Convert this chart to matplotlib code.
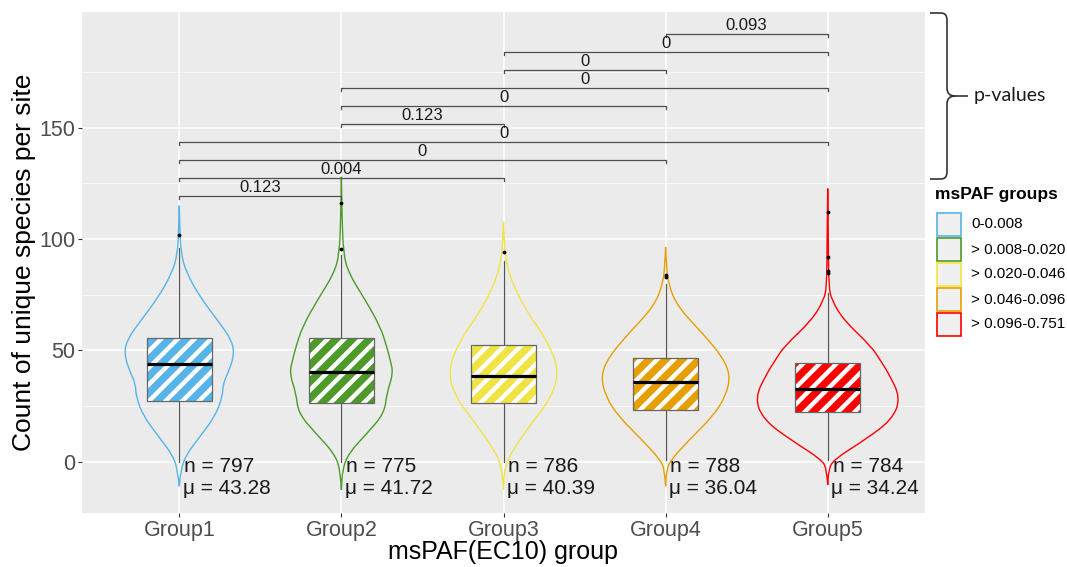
import numpy as np
import matplotlib
matplotlib.use('Agg')
import matplotlib.pyplot as plt
from matplotlib.path import Path
from matplotlib.patches import PathPatch, Rectangle

plt.rcParams['font.family'] = ['Liberation Sans', 'DejaVu Sans']
plt.rcParams['hatch.linewidth'] = 3.2

# ---- data ----
groups = ['Group1', 'Group2', 'Group3', 'Group4', 'Group5']
colors = ['#56B4E9', '#4C9A2A', '#F0E442', '#E69F00', '#FF0000']
legend_labels = ['0-0.008', '> 0.008-0.020', '> 0.020-0.046', '> 0.046-0.096', '> 0.096-0.751']

# violin outline: value and half-width (x units)
vio_y = [
    [-11, -5, 2.4, 11.4, 20.3, 29.3, 35.3, 41.3, 48.8, 55, 62.2, 74, 84.8, 93.6, 105, 115],
    [-12.6, -3.6, 3.9, 12.9, 21.8, 30.8, 39.8, 46, 51.7, 60.7, 72.6, 84.6, 93.6, 110, 128],
    [-12.5, -2.1, 6.9, 17.4, 29.3, 41.3, 54.7, 65.2, 77.1, 89, 100, 107.8],
    [-11, -3.6, 0.9, 9.9, 20.3, 29.3, 38.7, 47.2, 57.7, 69.6, 80, 90, 96.5],
    [-10.3, -3.6, 0.9, 9.9, 18.8, 28.6, 39.8, 45.7, 51.7, 63.7, 72.6, 78.6, 100, 122.7],
]
vio_w = [
    [0, 0.008, 0.035, 0.128, 0.22, 0.267, 0.27, 0.31, 0.34, 0.32, 0.25, 0.128, 0.045, 0.01, 0.004, 0],
    [0, 0.006, 0.045, 0.16, 0.265, 0.28, 0.32, 0.30, 0.28, 0.24, 0.148, 0.045, 0.012, 0.004, 0],
    [0, 0.006, 0.072, 0.175, 0.298, 0.344, 0.267, 0.165, 0.072, 0.016, 0.004, 0],
    [0, 0.006, 0.033, 0.146, 0.29, 0.37, 0.40, 0.35, 0.228, 0.074, 0.015, 0.004, 0],
    [0, 0.006, 0.035, 0.23, 0.395, 0.45, 0.375, 0.323, 0.27, 0.097, 0.025, 0.006, 0.004, 0],
]

q1 = [27.5, 26.3, 26.5, 23.3, 22.3]
med = [43.8, 40.5, 38.7, 35.7, 32.7]
q3 = [55.5, 55.5, 52.5, 46.8, 44.5]
wlo = [0, 0, 0, 1, 1]
whi = [96, 93, 90, 80, 76]
outliers = [[102], [116, 95.5], [94], [84, 83], [112, 92, 85.5, 84.8]]

n_obs = [797, 775, 786, 788, 784]
means = [43.28, 41.72, 40.39, 36.04, 34.24]

pairs = [(1, 2), (1, 3), (1, 4), (1, 5), (2, 3), (2, 4), (2, 5), (3, 4), (3, 5), (4, 5)]
pvals = ['0.123', '0.004', '0', '0', '0.123', '0', '0', '0', '0', '0.093']


def smooth_path(xs, ys):
    # quadratic bezier through midpoints of the outline points
    pts = np.column_stack([xs, ys])
    verts = [pts[0]]
    codes = [Path.MOVETO]
    for i in range(1, len(pts) - 1):
        verts += [pts[i], (pts[i] + pts[i + 1]) / 2]
        codes += [Path.CURVE3, Path.CURVE3]
    verts.append(pts[-1])
    codes.append(Path.LINETO)
    return Path(verts, codes)


fig = plt.figure(figsize=(10.67, 5.67), dpi=100)
ax = fig.add_axes([82 / 1067, 1 - 513 / 567, 843 / 1067, 501 / 567])
ax.set_facecolor('#EBEBEB')
for s in ax.spines.values():
    s.set_visible(False)

ax.set_xlim(0.4, 5.6)
ax.set_ylim(-23, 202)
ax.set_yticks([0, 50, 100, 150])
ax.set_yticks([25, 75, 125, 175], minor=True)
ax.set_xticks(range(1, 6))
ax.set_xticklabels(groups)
ax.grid(which='major', color='white', lw=1.1)
ax.grid(which='minor', axis='y', color='white', lw=0.5)
ax.set_axisbelow(True)
ax.tick_params(axis='both', which='major', length=3, width=0.8, color='#333333',
               labelcolor='#4D4D4D', labelsize=15.5, pad=2)
ax.tick_params(axis='y', which='minor', length=0)
ax.set_xlabel('msPAF(EC10) group', fontsize=18, labelpad=-1)
ax.set_ylabel('Count of unique species per site', fontsize=19, labelpad=2)

for i in range(5):
    xc = i + 1
    c = colors[i]
    # whisker line
    ax.plot([xc, xc], [wlo[i], whi[i]], color='#555555', lw=0.9, zorder=2)
    # violin outline
    yy = np.array(vio_y[i])
    ww = np.array(vio_w[i])
    xs = np.concatenate([xc - ww, (xc + ww)[::-1]])
    ys = np.concatenate([yy, yy[::-1]])
    ax.add_patch(PathPatch(smooth_path(xs, ys), facecolor='none', edgecolor=c,
                           lw=1.0, zorder=3))
    # box with stripes
    bw = 0.2
    ax.add_patch(Rectangle((xc - bw, q1[i]), 2 * bw, q3[i] - q1[i], facecolor=c,
                           edgecolor='white', hatch='//', lw=0, zorder=4))
    ax.add_patch(Rectangle((xc - bw, q1[i]), 2 * bw, q3[i] - q1[i], fill=False,
                           edgecolor='#666666', lw=0.9, zorder=5))
    ax.plot([xc - bw, xc + bw], [med[i], med[i]], color='black', lw=2.3,
            solid_capstyle='butt', zorder=6)
    ax.scatter([xc] * len(outliers[i]), outliers[i], s=3, color='black', zorder=6)
    # sample size and mean
    ax.text(xc + 0.03, -2.3, f'n = {n_obs[i]}', fontsize=15, va='center', ha='left',
            color='#1A1A1A', zorder=7)
    ax.text(xc + 0.02, -11.8, f'\u03bc = {means[i]:.2f}', fontsize=15, va='center',
            ha='left', color='#1A1A1A', zorder=7)

# significance brackets
for k, ((a, b), p) in enumerate(zip(pairs, pvals)):
    h = 119.3 + 8.07 * k
    ax.plot([a, a, b, b], [h - 1.2, h, h, h - 1.2], color='#4D4D4D', lw=0.9, zorder=7)
    ax.text((a + b) / 2, h + 0.6, p, fontsize=12, ha='center', va='bottom',
            color='#1A1A1A', zorder=8)

# overlay in pixel units for brace and legend
ov = fig.add_axes([0, 0, 1, 1], facecolor='none')
ov.set_xlim(0, 1067)
ov.set_ylim(567, 0)
ov.axis('off')

bv = [(930, 13), (941, 13), (947, 13), (947, 20), (947, 88), (947, 96), (955, 96),
      (968, 96), (955, 96), (947, 96), (947, 104), (947, 172), (947, 179),
      (941, 179), (930, 179)]
bc = [Path.MOVETO, Path.LINETO, Path.CURVE3, Path.CURVE3, Path.LINETO, Path.CURVE3,
      Path.CURVE3, Path.LINETO, Path.MOVETO, Path.CURVE3, Path.CURVE3, Path.LINETO,
      Path.CURVE3, Path.CURVE3, Path.LINETO]
ov.add_patch(PathPatch(Path(bv, bc), facecolor='none', edgecolor='#333333', lw=1.2))
ov.text(974, 96, 'p-values', fontsize=14, family=['Lato', 'DejaVu Sans'],
        ha='left', va='center', color='#1A1A1A')

ov.text(935, 194, 'msPAF groups', fontsize=12.5, fontweight='bold', ha='left',
        va='center', color='black')
for i, (lab, c) in enumerate(zip(legend_labels, colors)):
    y0 = 213 + 25 * i
    ov.add_patch(Rectangle((937, y0), 24, 23, facecolor='#F0F0F0', edgecolor=c, lw=1.2))
    ov.text(971, y0 + 11.5, lab, fontsize=11, ha='left', va='center', color='black')

plt.savefig('out.png', dpi=100)
